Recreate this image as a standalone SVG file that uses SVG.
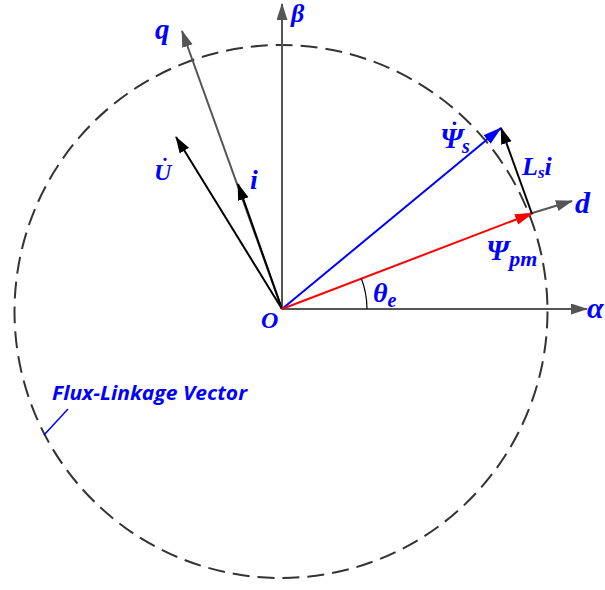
<svg xmlns="http://www.w3.org/2000/svg" width="605" height="590" viewBox="0 0 605 590">
<style>
.lbl{font-family:"Liberation Serif","Times New Roman",serif;font-weight:bold;font-style:italic;fill:#0000FF}
.axis{stroke:#555555;stroke-width:2;fill:none}
.vec{stroke-width:2;fill:none}
.note{font-family:"Open Sans","Liberation Sans",Arial,sans-serif;font-weight:bold;font-style:italic;fill:#0000FF}
</style>
<defs>
<marker id="ag" markerUnits="userSpaceOnUse" markerWidth="18" markerHeight="12" refX="16" refY="5.5" orient="auto"><path d="M0,0 L17,5.5 L0,11 z" fill="#555555"/></marker>
<marker id="ak" markerUnits="userSpaceOnUse" markerWidth="18" markerHeight="12" refX="16" refY="5.5" orient="auto"><path d="M0,0 L17,5.5 L0,11 z" fill="#000000"/></marker>
<marker id="ab" markerUnits="userSpaceOnUse" markerWidth="20" markerHeight="12" refX="18" refY="5.5" orient="auto"><path d="M0,0 L19,5.5 L0,11 z" fill="#0000FF"/></marker>
<marker id="ar" markerUnits="userSpaceOnUse" markerWidth="20" markerHeight="12" refX="18" refY="5.5" orient="auto"><path d="M0,0 L19,5.5 L0,11 z" fill="#FF0000"/></marker>
</defs>

<g id="circle">
<circle cx="281" cy="311.5" r="266.5" fill="none" stroke="#333333" stroke-width="2" stroke-dasharray="17 8"/>
</g>

<g id="connectors">
<line class="axis" x1="282" y1="309" x2="282" y2="4" marker-end="url(#ag)"/>
<line class="axis" x1="282" y1="309" x2="587" y2="309" marker-end="url(#ag)"/>
<line class="axis" x1="282" y1="309" x2="182" y2="31" stroke-width="1.6" marker-end="url(#ag)"/>
<line class="axis" x1="529" y1="214" x2="572" y2="201" marker-end="url(#ag)"/>
<line class="vec" stroke="#000000" x1="282" y1="309" x2="176" y2="137" marker-end="url(#ak)"/>
<line class="vec" stroke="#000000" stroke-width="2.4" x1="282" y1="309" x2="238" y2="184" marker-end="url(#ak)"/>
<line class="vec" stroke="#0000FF" x1="282" y1="309" x2="501" y2="128" marker-end="url(#ab)"/>
<line class="vec" stroke="#FF0000" x1="282" y1="309" x2="533" y2="213" marker-end="url(#ar)"/>
<line class="vec" stroke="#000000" x1="532" y1="214" x2="501" y2="128" marker-end="url(#ak)"/>
<path d="M367,309 A85,85 0 0 0 361.3,278.5" fill="none" stroke="#000000" stroke-width="1.2"/>
<line x1="44" y1="435" x2="68" y2="409" stroke="#0000FF" stroke-width="1.5"/>
</g>

<g id="labels">
<text class="lbl" x="155" y="39" font-size="29">q</text>
<text class="lbl" x="291" y="22" font-size="26">β</text>
<text class="lbl" x="575" y="213" font-size="30">d</text>
<text class="lbl" x="587" y="318" font-size="30">α</text>
<text class="lbl" x="261" y="328" font-size="24">O</text>
<text class="lbl" x="373" y="302" font-size="28">θ<tspan font-size="20" dy="5">e</tspan></text>
<text class="lbl" x="486" y="260" font-size="29">Ψ<tspan font-size="22" dy="6">pm</tspan></text>
<text class="lbl" x="440" y="148" font-size="29">Ψ<tspan x="449" y="138" font-size="24">˙</tspan><tspan x="462" y="153" font-size="20">s</tspan></text>
<text class="lbl" x="522" y="175" font-size="26">L<tspan font-size="17" dy="3">s</tspan><tspan dy="-3">i</tspan></text>
<text class="lbl" x="154" y="180" font-size="24">U<tspan x="160" y="173" font-size="22">˙</tspan></text>
<text class="lbl" x="250" y="189" font-size="28">i</text>
<text class="note" x="52" y="400" font-size="19" textLength="195" lengthAdjust="spacingAndGlyphs">Flux-Linkage Vector</text>
</g>
</svg>
